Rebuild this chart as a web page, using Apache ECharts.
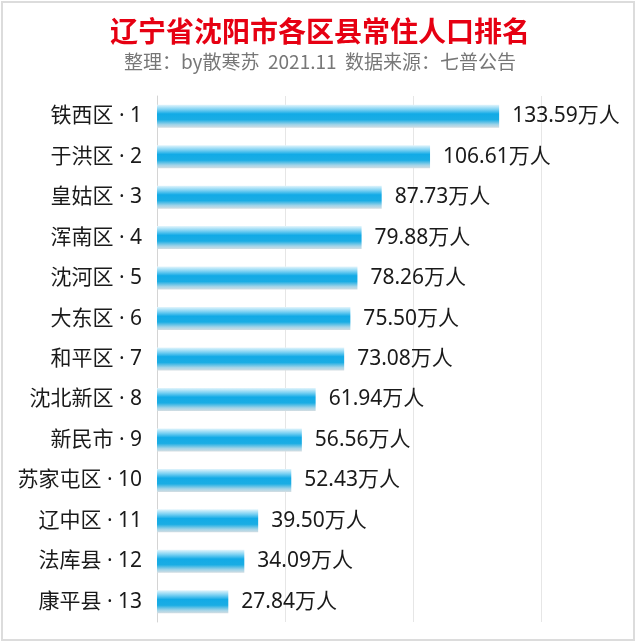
<!DOCTYPE html>
<html><head><meta charset="utf-8">
<script src="https://cdn.jsdelivr.net/npm/echarts@6/dist/echarts.min.js"></script>
<style>html,body{margin:0;padding:0;background:#fff}#c{width:640px;height:643px}</style>
</head><body><div id="c"></div>
<script>
const districts = ['铁西区','于洪区','皇姑区','浑南区','沈河区','大东区','和平区','沈北新区','新民市','苏家屯区','辽中区','法库县','康平县'];
const populations = [133.59,106.61,87.73,79.88,78.26,75.50,73.08,61.94,56.56,52.43,39.50,34.09,27.84];
const titleText = '辽宁省沈阳市各区县常住人口排名';
const subtitleText = '整理：by散寒苏  2021.11  数据来源：七普公告';

const chart = echarts.init(document.getElementById('c'));
const font = '"Noto Sans CJK SC", sans-serif';
const latinFont = '"Noto Sans", "Noto Sans CJK SC", sans-serif';
chart.setOption({
  animation: false,
  backgroundColor: '#fff',
  title: [
    {text: titleText, left: 'center', top: 12, textStyle: {color: '#e60012', fontSize: 28, fontWeight: 'bold', fontFamily: font}},
    {text: subtitleText, left: 'center', top: 47, textStyle: {color: '#777', fontSize: 19, fontWeight: 'normal', fontFamily: font}}
  ],
  graphic: [{type: 'rect', shape: {x: 2, y: 2, width: 632, height: 638}, style: {fill: 'none', stroke: '#dcdcdc', lineWidth: 2}, silent: true}],
  grid: {left: 157, top: 96, width: 461, height: 526},
  xAxis: {type: 'value', min: 0, max: 180, interval: 50,
    axisLabel: {show: false}, axisLine: {show: false}, axisTick: {show: false},
    splitLine: {show: true, showMaxLine: false, lineStyle: {color: '#e6e6e6', width: 1}}},
  yAxis: {type: 'category', inverse: true, data: districts,
    axisLine: {show: true, lineStyle: {color: '#d4d4d4', width: 1}}, axisTick: {show: false},
    axisLabel: {margin: 15, color: '#1a1a1a', fontSize: 21, fontFamily: latinFont,
      formatter: (v, i) => v + ' \u00b7 ' + (i + 1)}},
  series: [{type: 'bar', data: populations, barWidth: 23,
    itemStyle: {color: new echarts.graphic.LinearGradient(0, 0, 0, 1, [
      {offset: 0, color: '#e3f5fc'},
      {offset: 0.2, color: '#7fd2f3'},
      {offset: 0.4, color: '#12aae6'},
      {offset: 0.65, color: '#1aade4'},
      {offset: 0.87, color: '#a3d4e8'},
      {offset: 1, color: '#d3dde2'}])},
    label: {show: true, position: 'right', distance: 13, color: '#1a1a1a', fontSize: 21, fontFamily: latinFont,
      formatter: p => p.value.toFixed(2) + '万人'}}]
});
</script></body></html>
